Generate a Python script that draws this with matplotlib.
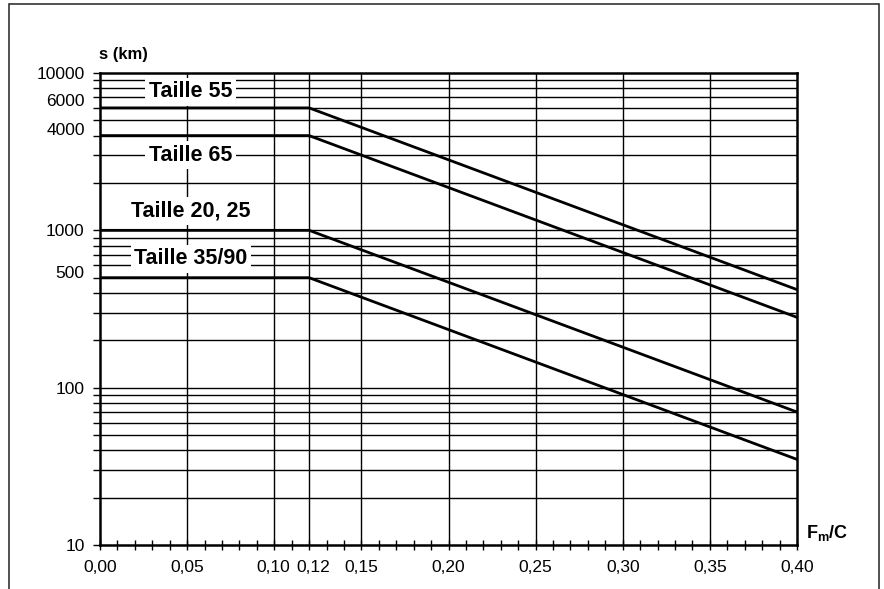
import numpy as np
import matplotlib.pyplot as plt
from matplotlib.patches import Rectangle
from matplotlib.ticker import FixedLocator, NullFormatter
from matplotlib.transforms import ScaledTranslation

plt.rcParams['font.family'] = ['Liberation Sans', 'DejaVu Sans']

# --- data --- #
x_pts = [0.0, 0.12, 0.40]
s_taille_55 = [6000, 6000, 420]
s_taille_65 = [4000, 4000, 280]
s_taille_20_25 = [1000, 1000, 70]
s_taille_35_90 = [500, 500, 35]
series = [s_taille_55, s_taille_65, s_taille_20_25, s_taille_35_90]

label_names = ["Taille 55", "Taille 65", "Taille 20, 25", "Taille 35/90"]
label_x = [0.052, 0.052, 0.052, 0.052]
label_y = [7600, 3000, 1330, 660]

x_grid = [0.05, 0.10, 0.12, 0.15, 0.20, 0.25, 0.30, 0.35]
x_ticks = [0.0, 0.05, 0.10, 0.12, 0.15, 0.20, 0.25, 0.30, 0.35, 0.40]
y_labels = [10, 100, 500, 1000, 4000, 6000, 10000]
# the original drawing nudges a few labels off their tick (pixels)
y_label_shift = {500: 6, 4000: 7, 6000: 8}
x_label_shift = {0.10: -1, 0.12: 4}

# --- figure --- #
W, H = 884, 589
fig = plt.figure(figsize=(W / 100, H / 100), dpi=100)
ax = fig.add_axes([100 / W, 1 - 545 / H, 697 / W, 472 / H])

# outer frame (open at the bottom)
fig.patches.append(Rectangle((9 / W, -0.2), 870 / W, 1.2 - 4 / H,
                             transform=fig.transFigure, fill=False,
                             edgecolor='#333333', linewidth=1.2))

ax.set_yscale('log')
ax.set_xlim(0, 0.40)
ax.set_ylim(10, 10000)

# grid lines
minor_y = [m * 10 ** e for e in range(1, 4) for m in range(1, 10)]
for yv in minor_y:
    if 10 < yv < 10000:
        ax.axhline(yv, color='black', linewidth=1.0, zorder=1)
for xv in x_grid:
    ax.axvline(xv, color='black', linewidth=1.0, zorder=1)

for s in series:
    ax.plot(x_pts, s, color='black', linewidth=2.0, zorder=3)

for name, lx, ly in zip(label_names, label_x, label_y):
    ax.text(lx, ly, name, ha='center', va='center', fontsize=15.5,
            fontweight='bold', zorder=4,
            bbox=dict(facecolor='white', edgecolor='none', pad=2.5))

# y axis ticks
ax.yaxis.set_major_locator(FixedLocator(y_labels))
ax.yaxis.set_minor_locator(FixedLocator(minor_y))
ax.yaxis.set_minor_formatter(NullFormatter())
ax.set_yticklabels([str(v) for v in y_labels])
ax.tick_params(axis='y', which='both', direction='out', length=5, width=1,
               labelsize=12.5, pad=6)

# x axis ticks
ax.set_xticks(x_ticks)
ax.set_xticklabels([f"{v:.2f}".replace('.', ',') for v in x_ticks])
ax.xaxis.set_minor_locator(FixedLocator([i / 100 for i in range(41)]))
ax.tick_params(axis='x', which='both', direction='inout', length=7, width=1,
               labelsize=12.5, pad=7)

for sp in ax.spines.values():
    sp.set_linewidth(1.8)
    sp.set_zorder(5)

fig.text(99 / W, 1 - 55 / H, "s (km)", fontsize=12, fontweight='bold',
         ha='left', va='center')
fig.text(806 / W, 1 - 533 / H, r"F$_\mathregular{m}$/C", fontsize=13,
         fontweight='bold', ha='left', va='center')

fig.canvas.draw()
for tick, val in zip(ax.yaxis.get_major_ticks(), y_labels):
    dy = y_label_shift.get(val, 0)
    if dy:
        lab = tick.label1
        lab.set_transform(lab.get_transform() +
                          ScaledTranslation(0, dy / 100, fig.dpi_scale_trans))
for tick, val in zip(ax.xaxis.get_major_ticks(), x_ticks):
    dx = x_label_shift.get(val, 0)
    if dx:
        lab = tick.label1
        lab.set_transform(lab.get_transform() +
                          ScaledTranslation(dx / 100, 0, fig.dpi_scale_trans))

fig.savefig('out.png', dpi=100)
